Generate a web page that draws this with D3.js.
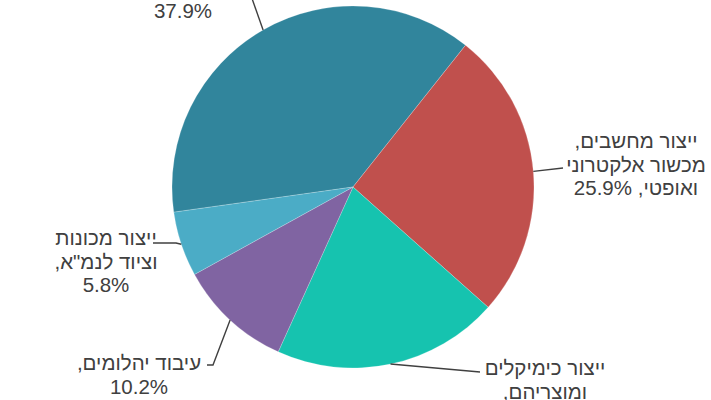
<!DOCTYPE html>
<html>
<head>
<meta charset="utf-8">
<script src="https://cdn.jsdelivr.net/npm/d3@7"></script>
<style>
  body { margin: 0; background: #fff; }
  svg { display: block; }
</style>
</head>
<body>
<div id="chart-holder"></div>
<script>
let width = 711;
let height = 400;

// slice data, in drawing order (clockwise)
const categories = [
  "",
  "ייצור מחשבים,|מכשור אלקטרוני|ואופטי,",
  "ייצור כימיקלים|ומוצריהם,",
  "עיבוד יהלומים,",
  "ייצור מכונות|וציוד לנמ\"א,"
];
const values = [37.9, 25.9, 20.2, 10.2, 5.8];
const colors = ["#31859c", "#c0504d", "#16c3af", "#8064a2", "#4bacc6"];

// label layout: text centre x, first baseline y, leader path after the pie edge
const labelLayout = [
  { x: 183, y: 18, path: [[249, -10]] },
  { x: 636, y: 148, path: [[563, 168]] },
  { x: 545, y: 375, path: [[480, 372]] },
  { x: 139, y: 370, path: [[213, 365], [207, 365]] },
  { x: 106, y: 245, path: [[176, 243], [153, 243]] }
];

let cx = 353, cy = 187, radius = 181;
let lineHeight = 23.5;

let svg = d3.select("#chart-holder")
  .append("svg")
  .attr("width", width)
  .attr("height", height);

let startDeg = 262;
let pie = d3.pie()
  .sort(null)
  .value(function(d) { return d; })
  .startAngle(startDeg * Math.PI / 180)
  .endAngle(startDeg * Math.PI / 180 + 2 * Math.PI);

let arcs = pie(values);

let arc = d3.arc()
  .innerRadius(0)
  .outerRadius(radius);

let g = svg.append("g")
  .attr("transform", "translate(" + cx + "," + cy + ")");

g.selectAll("path")
  .data(arcs)
  .enter()
  .append("path")
  .attr("d", arc)
  .attr("fill", function(d, i) { return colors[i]; })
  .attr("stroke", "#ffffff")
  .attr("stroke-opacity", 0.35)
  .attr("stroke-width", 0.6);

// leader lines: start at the pie edge on each slice's middle angle
let line = d3.line();
svg.append("g")
  .selectAll("path")
  .data(arcs)
  .enter()
  .append("path")
  .attr("d", function(d, i) {
    let a = (d.startAngle + d.endAngle) / 2;
    let p0 = [cx + radius * Math.sin(a), cy - radius * Math.cos(a)];
    return line([p0].concat(labelLayout[i].path));
  })
  .attr("fill", "none")
  .attr("stroke", "#404040")
  .attr("stroke-width", 1.4);

// labels
let labels = svg.append("g")
  .selectAll("text")
  .data(arcs)
  .enter()
  .append("text")
  .attr("direction", "rtl")
  .attr("text-anchor", "middle")
  .attr("font-family", "'Liberation Sans', Arial, sans-serif")
  .attr("font-size", "20.5px")
  .attr("fill", "#404040");

labels.each(function(d, i) {
  let parts = categories[i] ? categories[i].split("|") : [];
  let pct = d3.format(".1f")(values[i]) + "%";
  let lines;
  if (parts.length === 3) {
    // percent shares the last line
    lines = parts.slice(0, 2).concat([parts[2] + " " + pct]);
  } else {
    lines = parts.concat([pct]);
  }
  let t = d3.select(this);
  lines.forEach(function(s, k) {
    t.append("tspan")
      .attr("x", labelLayout[i].x)
      .attr("y", labelLayout[i].y + k * lineHeight)
      .text(s);
  });
});
</script>
</body>
</html>
